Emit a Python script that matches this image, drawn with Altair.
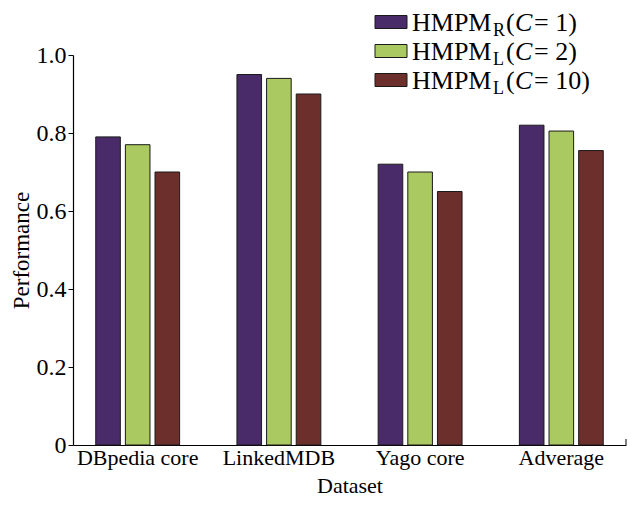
import altair as alt
import pandas as pd

datasets = ["DBpedia core", "LinkedMDB", "Yago core", "Adverage"]
series = ["R1", "L2", "L10"]
vals_r1 = [0.79, 0.95, 0.72, 0.82]
vals_l2 = [0.77, 0.94, 0.70, 0.805]
vals_l10 = [0.70, 0.90, 0.65, 0.755]
colors = ["#4a2b69", "#abc961", "#6d2f2b"]
leg_main = ["HMPM", "HMPM", "HMPM"]
leg_sub = ["R", "L", "L"]
leg_c = ["1", "2", "10"]

rows = []
for s, vals in zip(series, [vals_r1, vals_l2, vals_l10]):
    for d, v in zip(datasets, vals):
        rows.append({"Dataset": d, "series": s, "value": v})
df = pd.DataFrame(rows)

W, H = 553, 390
FONT = "Liberation Serif"
X0, Y0 = 73, 55  # plot origin on page, used to place the legend

common_axis = dict(labelFont=FONT, titleFont=FONT,
                   labelColor="black", titleColor="black", titleFontWeight="normal",
                   domainColor="black", tickColor="black", domainWidth=1.2, tickWidth=1)

bars = alt.Chart(df).mark_bar(stroke="#1a1a1a", strokeWidth=1).encode(
    x=alt.X("Dataset:N", sort=datasets,
            scale=alt.Scale(paddingInner=0.406, paddingOuter=0.161),
            axis=alt.Axis(title="Dataset", labelAngle=0, ticks=False, domain=True,
                          labelPadding=2, labelFontSize=22, titleFontSize=22,
                          titleY=47, titleBaseline="alphabetic",
                          **common_axis)),
    xOffset=alt.XOffset("series:N", sort=series,
                        scale=alt.Scale(paddingInner=0.17, paddingOuter=0)),
    y=alt.Y("value:Q", scale=alt.Scale(domain=[0, 1], nice=False),
            axis=alt.Axis(title="Performance", values=[0, 0.2, 0.4, 0.6, 0.8, 1.0],
                          labelExpr="datum.value == 0 ? '0' : format(datum.value, '.1f')",
                          tickSize=5, grid=False, labelPadding=2,
                          labelFontSize=24, titleFontSize=23,
                          titleX=-52, titleY=H / 2, titleAngle=270,
                          titleAlign="center", titleBaseline="middle",
                          **common_axis)),
    color=alt.Color("series:N", sort=series,
                    scale=alt.Scale(domain=series, range=colors), legend=None),
)

end_tick = alt.Chart(pd.DataFrame({"a": [0]})).mark_rule(color="black", strokeWidth=1).encode(
    x=alt.value(W), y=alt.value(H - 6), y2=alt.value(H)
)

layers = [bars, end_tick]
row_centers = [22, 51, 80]
for i in range(3):
    c = row_centers[i] - Y0
    sw = alt.Chart(pd.DataFrame({"s": [series[i]]})).mark_rect(
        fill=colors[i], stroke="#1a1a1a", strokeWidth=1
    ).encode(x=alt.value(375 - X0), x2=alt.value(407 - X0),
             y=alt.value(c - 6.5), y2=alt.value(c + 6.5))
    t_main = alt.Chart(pd.DataFrame({"t": [leg_main[i]]})).mark_text(
        font=FONT, fontSize=26, align="left", baseline="alphabetic", color="black"
    ).encode(text="t:N", x=alt.value(412 - X0), y=alt.value(c + 9))
    t_sub = alt.Chart(pd.DataFrame({"t": [leg_sub[i]]})).mark_text(
        font=FONT, fontSize=18, align="left", baseline="alphabetic", color="black"
    ).encode(text="t:N", x=alt.value(493 - X0), y=alt.value(c + 14))
    t_open = alt.Chart(pd.DataFrame({"t": ["("]})).mark_text(
        font=FONT, fontSize=26, align="left", baseline="alphabetic", color="black"
    ).encode(text="t:N", x=alt.value(506 - X0), y=alt.value(c + 9))
    t_c = alt.Chart(pd.DataFrame({"t": ["C"]})).mark_text(
        font=FONT, fontSize=26, fontStyle="italic", align="left", baseline="alphabetic", color="black"
    ).encode(text="t:N", x=alt.value(515 - X0), y=alt.value(c + 9))
    t_rest = alt.Chart(pd.DataFrame({"t": ["= " + leg_c[i] + ")"]})).mark_text(
        font=FONT, fontSize=26, align="left", baseline="alphabetic", color="black"
    ).encode(text="t:N", x=alt.value(534 - X0), y=alt.value(c + 9))
    layers += [sw, t_main, t_sub, t_open, t_c, t_rest]

chart = alt.layer(*layers).properties(
    width=W, height=H, autosize="none",
    padding={"left": 65, "top": 47, "right": 1, "bottom": 52},
    background="white",
).configure_view(stroke=None)

chart.save("out.html", embed_options={"renderer": "svg", "actions": False})
